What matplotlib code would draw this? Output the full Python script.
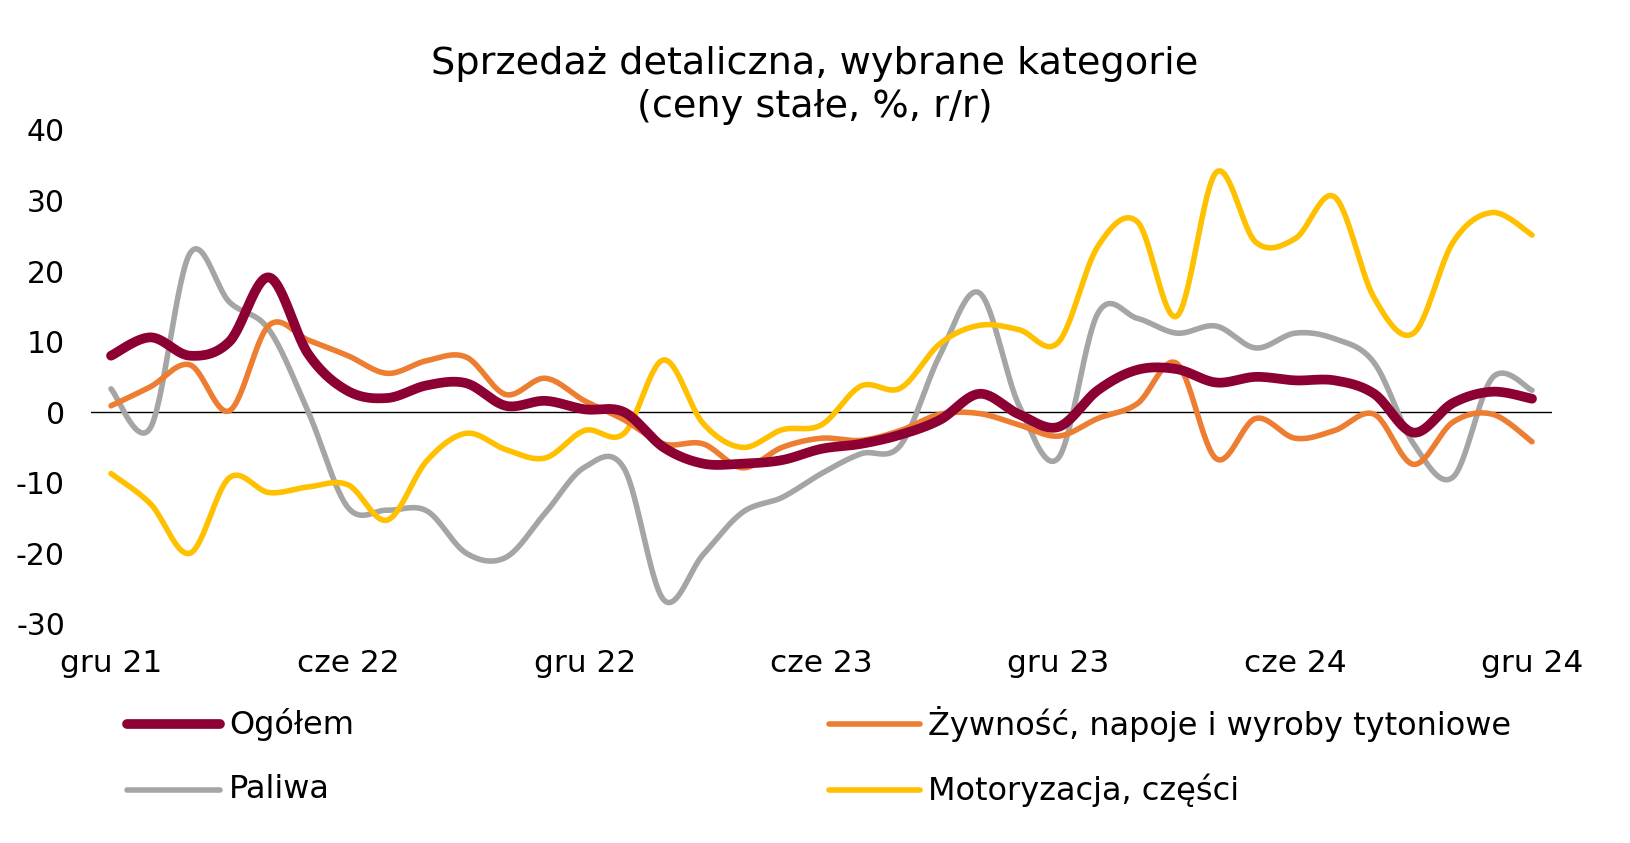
import numpy as np
import matplotlib
matplotlib.use("Agg")
import matplotlib.pyplot as plt
from matplotlib.lines import Line2D

plt.rcParams['font.family'] = ['DejaVu Sans']

months = list(range(37))
tick_pos = [0, 6, 12, 18, 24, 30, 36]
tick_labels = ["gru 21", "cze 22", "gru 22", "cze 23", "gru 23", "cze 24", "gru 24"]

ogolem = [8.0, 10.6, 8.0, 10.0, 19.1, 8.2, 3.0, 2.0, 3.8, 4.1, 0.9, 1.6, 0.4,
          0.0, -5.0, -7.3, -7.3, -6.8, -5.2, -4.5, -3.2, -1.1, 2.6, -0.3, -2.1,
          3.1, 6.0, 6.1, 4.2, 5.0, 4.5, 4.5, 2.6, -2.9, 1.3, 2.9, 1.9]
zywnosc = [0.9, 3.6, 6.7, 0.2, 12.3, 10.2, 8.0, 5.5, 7.3, 7.8, 2.5, 4.8, 1.6,
           -1.1, -4.5, -4.5, -7.9, -5.0, -3.7, -4.0, -2.6, -0.3, -0.2, -1.8, -3.4,
           -0.9, 1.2, 6.9, -6.6, -0.9, -3.7, -2.6, -0.3, -7.4, -1.4, -0.3, -4.2]
paliwa = [3.3, -2.2, 22.5, 15.6, 11.7, 0.0, -13.5, -13.9, -14.0, -20.0, -20.6, -14.3, -7.8,
          -8.0, -26.6, -20.2, -14.2, -12.1, -8.7, -5.9, -4.7, 8.1, 16.9, 1.0, -6.5,
          14.0, 13.3, 11.2, 12.2, 9.1, 11.2, 10.4, 7.0, -4.5, -9.2, 4.9, 3.1]
motoryzacja = [-8.7, -13.0, -20.0, -9.3, -11.4, -10.6, -10.3, -15.3, -6.9, -3.0, -5.3, -6.5, -2.6,
               -3.0, 7.4, -1.6, -5.0, -2.5, -1.8, 3.7, 3.4, 9.7, 12.3, 11.7, 9.9,
               23.5, 27.0, 13.6, 34.0, 24.1, 24.6, 30.5, 16.2, 11.2, 24.1, 28.3, 25.1]

series_names = ["Ogółem", "Żywność, napoje i wyroby tytoniowe", "Paliwa", "Motoryzacja, części"]
colors = ["#8C0034", "#ED7D31", "#A5A5A5", "#FFC000"]
widths = [7.0, 4.0, 4.0, 4.0]


def smooth(x, y, n=30):
    # Excel-like smoothed line (Bezier with 1/6 neighbour control offsets)
    x = np.asarray(x, float)
    y = np.asarray(y, float)
    px = np.concatenate([[x[0]], x, [x[-1]]])
    py = np.concatenate([[y[0]], y, [y[-1]]])
    xs, ys = [], []
    t = np.linspace(0, 1, n, endpoint=False)
    for i in range(1, len(px) - 2):
        p0 = np.array([px[i], py[i]])
        p3 = np.array([px[i + 1], py[i + 1]])
        c1 = p0 + (np.array([px[i + 1], py[i + 1]]) - np.array([px[i - 1], py[i - 1]])) / 6
        c2 = p3 - (np.array([px[i + 2], py[i + 2]]) - np.array([px[i], py[i]])) / 6
        b = ((1 - t) ** 3)[:, None] * p0 + (3 * (1 - t) ** 2 * t)[:, None] * c1 + \
            (3 * (1 - t) * t ** 2)[:, None] * c2 + (t ** 3)[:, None] * p3
        xs.append(b[:, 0])
        ys.append(b[:, 1])
    xs.append([x[-1]])
    ys.append([y[-1]])
    return np.concatenate(xs), np.concatenate(ys)


fig = plt.figure(figsize=(16.3, 8.43), dpi=100)
ax = fig.add_axes([0.056, 0.2601, 0.896, 0.5857])

data = [ogolem, zywnosc, paliwa, motoryzacja]
zorders = [6, 5, 3, 4]
ax.axhline(0, color="black", lw=1.0, zorder=1)
for k in range(4):
    sx, sy = smooth(months, data[k])
    ax.plot(sx, sy, color=colors[k], lw=widths[k], solid_capstyle="round",
            solid_joinstyle="round", zorder=zorders[k])

ax.set_xlim(-0.5, 36.5)
ax.set_ylim(-30, 40)
ax.set_yticks(range(-30, 41, 10))
ax.set_yticklabels([str(v) for v in range(-30, 41, 10)])
ax.set_xticks(tick_pos)
ax.set_xticklabels(tick_labels)
ax.tick_params(axis="both", length=0)
ax.tick_params(axis="y", pad=19, labelsize=21.5)
ax.tick_params(axis="x", pad=18, labelsize=22.5)
for s in ax.spines.values():
    s.set_visible(False)
ax.patch.set_visible(False)

fig.text(0.5, 0.8985, "Sprzedaż detaliczna, wybrane kategorie\n(ceny stałe, %, r/r)",
         ha="center", va="center", fontsize=27.5, linespacing=1.22)

# legend
leg_rows = [0.1406, 0.0629]
leg_cols = [(127, 220, 229), (829, 920, 928)]
for idx, name in enumerate(series_names):
    r = idx // 2
    c = idx % 2
    x0, x1, xt = leg_cols[c]
    yy = leg_rows[r]
    fig.add_artist(Line2D([x0 / 1630, x1 / 1630], [yy, yy], color=colors[idx],
                          lw=widths[idx], solid_capstyle="round"))
    fig.text(xt / 1630, yy, name, ha="left", va="center", fontsize=23)

fig.savefig("out.png", dpi=100)
